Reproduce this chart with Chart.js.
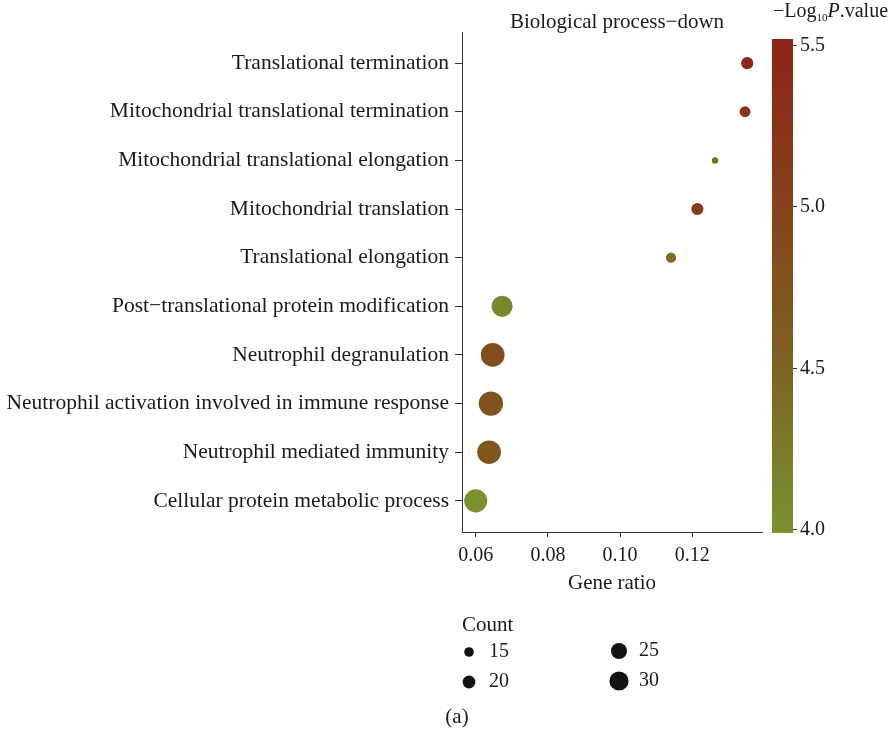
<!DOCTYPE html>
<html>
<head>
<meta charset="utf-8">
<script src="https://cdn.jsdelivr.net/npm/chart.js@4.4.0/dist/chart.umd.min.js"></script>
<style>
  html, body { margin: 0; padding: 0; background: #fff; }
  #wrap { width: 893px; height: 735px; }
</style>
</head>
<body>
<div id="wrap"><canvas id="chart" width="893" height="735"></canvas></div>
<script>
// terms, bottom to top
const terms = [
  'Cellular protein metabolic process',
  'Neutrophil mediated immunity',
  'Neutrophil activation involved in immune response',
  'Neutrophil degranulation',
  'Post\u2212translational protein modification',
  'Translational elongation',
  'Mitochondrial translation',
  'Mitochondrial translational elongation',
  'Mitochondrial translational termination',
  'Translational termination'
];
const geneRatio = [0.0600, 0.0637, 0.0642, 0.0647, 0.0673, 0.1141, 0.1214, 0.1263, 0.1346, 0.1352];
const counts    = [36, 37, 38, 37, 33, 16, 19, 10, 17, 19];
const logP      = [4.00, 4.70, 4.78, 4.85, 4.10, 4.42, 5.12, 4.40, 5.22, 5.45];

const xTicks = [0.06, 0.08, 0.10, 0.12];
const colorTicks = [4.0, 4.5, 5.0, 5.5];
const legendCounts = [15, 20, 25, 30];

const FONT = '"Liberation Serif", "DejaVu Serif", serif';

// colour ramp for -log10 p
const rampStops = [
  [4.0, [122, 145, 48]],
  [4.5, [124, 100, 34]],
  [5.0, [133, 66, 26]],
  [5.5, [142, 36, 25]]
];
function colorFor(v) {
  if (v <= rampStops[0][0]) return 'rgb(' + rampStops[0][1].join(',') + ')';
  for (let i = 1; i < rampStops.length; i++) {
    if (v <= rampStops[i][0]) {
      const a = rampStops[i - 1], b = rampStops[i];
      const t = (v - a[0]) / (b[0] - a[0]);
      const c = a[1].map((x, k) => Math.round(x + (b[1][k] - x) * t));
      return 'rgb(' + c.join(',') + ')';
    }
  }
  return 'rgb(' + rampStops[rampStops.length - 1][1].join(',') + ')';
}
function radiusFor(n) { return n * 0.32; }

const points = terms.map((t, i) => ({ x: geneRatio[i], y: i + 1, r: radiusFor(counts[i]) }));

const extras = {
  id: 'extras',
  afterDraw(chart) {
    const ctx = chart.ctx;
    const area = chart.chartArea;
    ctx.save();
    ctx.fillStyle = '#1a1a1a';
    ctx.textBaseline = 'middle';

    // title
    ctx.font = '21px ' + FONT;
    ctx.textAlign = 'center';
    ctx.fillText('Biological process\u2212down', (area.left + area.right) / 2 + 5, 22);

    // colour bar
    const barX = 772, barW = 21, barTop = 39, barBot = 533;
    const vTop = 5.5, yTop = 45, vBot = 4.0, yBot = 529;
    const yOf = v => yBot + (v - vBot) * (yTop - yBot) / (vTop - vBot);
    const g = ctx.createLinearGradient(0, barBot, 0, barTop);
    for (let k = 0; k <= 20; k++) {
      const y = barBot - (barBot - barTop) * k / 20;
      const v = vBot + (y - yBot) * (vTop - vBot) / (yTop - yBot);
      g.addColorStop(k / 20, colorFor(v));
    }
    ctx.fillStyle = g;
    ctx.fillRect(barX, barTop, barW, barBot - barTop);
    ctx.strokeStyle = '#333';
    ctx.lineWidth = 1;
    ctx.fillStyle = '#1a1a1a';
    ctx.textAlign = 'left';
    ctx.font = '20px ' + FONT;
    colorTicks.forEach(v => {
      const y = Math.round(yOf(v)) + 0.5;
      ctx.beginPath();
      ctx.moveTo(barX + barW, y);
      ctx.lineTo(barX + barW + 4, y);
      ctx.stroke();
      ctx.fillText(v.toFixed(1), barX + barW + 7, y);
    });

    // colour bar title: −Log10 P.value
    let tx = 773;
    const ty = 12;
    ctx.font = '20px ' + FONT;
    ctx.fillText('\u2212Log', tx, ty);
    tx += ctx.measureText('\u2212Log').width;
    ctx.font = '11px ' + FONT;
    ctx.fillText('10', tx, ty + 6);
    tx += ctx.measureText('10').width;
    ctx.font = 'italic 20px ' + FONT;
    ctx.fillText('P', tx, ty);
    tx += ctx.measureText('P').width;
    ctx.font = '20px ' + FONT;
    ctx.fillText('.value', tx, ty);

    // size legend
    ctx.font = '21px ' + FONT;
    ctx.fillText('Count', 462, 625);
    ctx.font = '20px ' + FONT;
    const slots = [[469, 652], [469, 682], [619, 651], [619, 681]];
    legendCounts.forEach((n, i) => {
      const [cx, cy] = slots[i];
      ctx.fillStyle = '#111';
      ctx.beginPath();
      ctx.arc(cx, cy, radiusFor(n), 0, Math.PI * 2);
      ctx.fill();
      ctx.fillStyle = '#1a1a1a';
      ctx.fillText(String(n), cx + 20, cy);
    });

    // panel label
    ctx.textAlign = 'center';
    ctx.font = '21px ' + FONT;
    ctx.fillText('(a)', 457, 717);
    ctx.restore();
  }
};

new Chart(document.getElementById('chart'), {
  type: 'bubble',
  data: {
    datasets: [{
      data: points,
      backgroundColor: logP.map(colorFor),
      borderWidth: 0,
      hoverBorderWidth: 0
    }]
  },
  options: {
    responsive: false,
    animation: false,
    events: [],
    layout: { padding: { left: 0, right: 131, top: 32, bottom: 135 } },
    plugins: { legend: { display: false }, tooltip: { enabled: false } },
    scales: {
      x: {
        type: 'linear',
        min: 0.0562,
        max: 0.1393,
        afterBuildTicks: s => { s.ticks = xTicks.map(v => ({ value: v })); },
        afterFit: s => { s.height = 68; },
        grid: { drawOnChartArea: false, tickLength: 5, color: '#333' },
        border: { color: '#333', width: 1 },
        ticks: {
          padding: 7,
          color: '#1a1a1a',
          font: { family: FONT, size: 20 },
          callback: v => v.toFixed(2)
        },
        title: {
          display: true,
          text: 'Gene ratio',
          color: '#1a1a1a',
          font: { family: FONT, size: 21 },
          padding: { top: 3 }
        }
      },
      y: {
        type: 'linear',
        min: 0.36,
        max: 10.64,
        afterBuildTicks: s => { s.ticks = terms.map((t, i) => ({ value: i + 1 })); },
        afterFit: s => { s.width = 462; },
        grid: { drawOnChartArea: false, tickLength: 7, color: '#333' },
        border: { color: '#333', width: 1 },
        ticks: {
          padding: 6,
          color: '#1a1a1a',
          font: { family: FONT, size: 21.5 },
          callback: v => terms[Math.round(v) - 1]
        }
      }
    }
  },
  plugins: [extras]
});
</script>
</body>
</html>
